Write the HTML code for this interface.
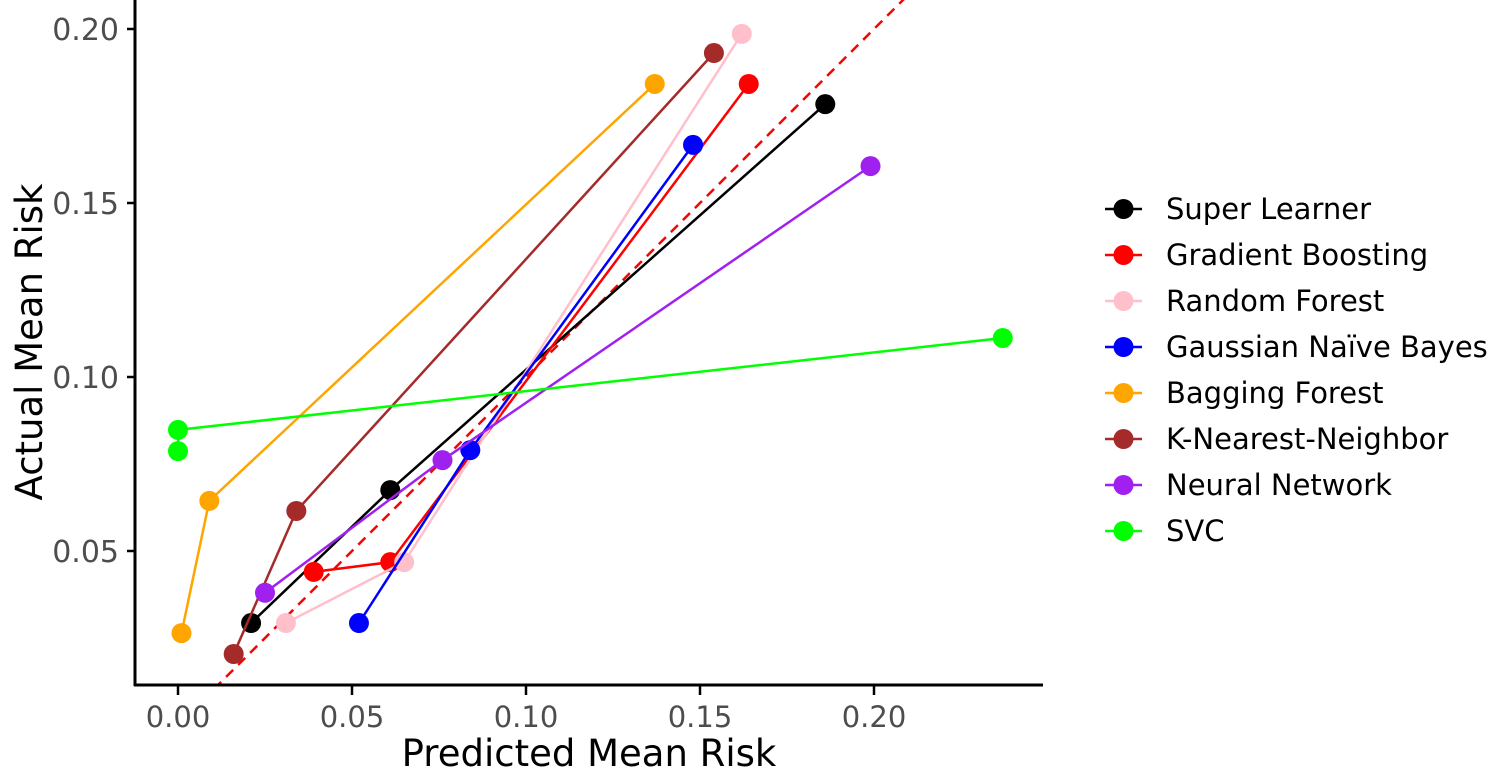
<!DOCTYPE html>
<html><head><meta charset="utf-8"><style>
body{margin:0;background:#fff;}
svg{display:block;font-family:"DejaVu Sans","Liberation Sans",sans-serif;}
</style></head><body>
<svg id="chart" width="1502" height="771" viewBox="0 0 1502 771">
<defs><clipPath id="pc"><rect x="135" y="0" width="908" height="685"/></clipPath></defs>
<g id="marks" clip-path="url(#pc)"></g>
<g id="axes"></g>
<g id="legend"></g>
</svg>
<script>
const seriesNames=["Super Learner","Gradient Boosting","Random Forest","Gaussian Naïve Bayes","Bagging Forest","K-Nearest-Neighbor","Neural Network","SVC"];
const seriesColors=["#000000","#ff0000","#ffc0cb","#0000ff","#ffa500","#a52a2a","#a020f0","#00ff00"];
const predSuper=[0.021,0.061,0.186], actSuper=[0.0293,0.0675,0.1784];
const predGB=[0.039,0.061,0.164], actGB=[0.044,0.0468,0.1842];
const predRF=[0.031,0.065,0.162], actRF=[0.0293,0.0468,0.1986];
const predGNB=[0.052,0.084,0.148], actGNB=[0.0293,0.079,0.1667];
const predBag=[0.001,0.009,0.137], actBag=[0.0264,0.0644,0.1842];
const predKNN=[0.016,0.034,0.154], actKNN=[0.0204,0.0615,0.1931];
const predNN=[0.025,0.076,0.199], actNN=[0.038,0.0761,0.1606];
const predSVC=[0,0,0.237], actSVC=[0.0787,0.0848,0.1112];
const xTicks=[0,0.05,0.10,0.15,0.20], xTickLabels=["0.00","0.05","0.10","0.15","0.20"];
const yTicks=[0.05,0.10,0.15,0.20], yTickLabels=["0.05","0.10","0.15","0.20"];
const preds=[predSuper,predGB,predRF,predGNB,predBag,predKNN,predNN,predSVC];
const acts=[actSuper,actGB,actRF,actGNB,actBag,actKNN,actNN,actSVC];
const NS="http://www.w3.org/2000/svg";
const sx=v=>178+v*3480, sy=v=>29+(0.20-v)*3480;
function mk(t,a,p){const e=document.createElementNS(NS,t);for(const k in a)e.setAttribute(k,a[k]);p.appendChild(e);return e;}
const marks=document.getElementById('marks'),axes=document.getElementById('axes'),leg=document.getElementById('legend');
const ref=mk('line',{x1:sx(0),y1:sy(0),x2:sx(0.25),y2:sy(0.25),stroke:'#ff0000','stroke-width':2.5,'stroke-dasharray':'10,7'},marks);


for(let i=0;i<preds.length;i++){
  const g=mk('g',{},marks);
  
  
  const pts=preds[i].map((p,j)=>sx(p)+','+sy(acts[i][j])).join(' ');
  const pl=mk('polyline',{points:pts,fill:'none',stroke:seriesColors[i],'stroke-width':2.5},g);
  
  
  preds[i].forEach((p,j)=>{const c=mk('circle',{cx:sx(p),cy:sy(acts[i][j]),r:10,fill:seriesColors[i]},g);
    
    });
}
const ya=mk('line',{x1:135,y1:0,x2:135,y2:686,stroke:'#000','stroke-width':3},axes);


const xa=mk('line',{x1:134,y1:685,x2:1043,y2:685,stroke:'#000','stroke-width':3},axes);


xTicks.forEach((v,i)=>{mk('line',{x1:sx(v),y1:686,x2:sx(v),y2:695,stroke:'#000','stroke-width':2.5},axes);
  const t=mk('text',{x:sx(v),y:727,'text-anchor':'middle','font-size':29,fill:'#4d4d4d'},axes);t.textContent=xTickLabels[i];
  
  });
yTicks.forEach((v,i)=>{mk('line',{x1:127,y1:sy(v),x2:135,y2:sy(v),stroke:'#000','stroke-width':2.5},axes);
  const t=mk('text',{x:119,y:sy(v)+11,'text-anchor':'end','font-size':30,fill:'#4d4d4d'},axes);t.textContent=yTickLabels[i];
  
  });
const xt=mk('text',{x:589,y:766,'text-anchor':'middle','font-size':37,fill:'#000'},axes);xt.textContent='Predicted Mean Risk';


const yt=mk('text',{x:0,y:0,'text-anchor':'middle','font-size':37,fill:'#000',transform:'translate(42,342) rotate(-90)'},axes);yt.textContent='Actual Mean Risk';


seriesNames.forEach((n,i)=>{const y=209+i*46;const g=mk('g',{},leg);
  
  
  mk('line',{x1:1105,y1:y,x2:1142,y2:y,stroke:seriesColors[i],'stroke-width':2.5},g);
  mk('circle',{cx:1123.5,cy:y,r:10,fill:seriesColors[i]},g);
  const t=mk('text',{x:1166,y:y+10,'font-size':29,fill:'#000'},g);t.textContent=n;});
</script>
</body></html>
